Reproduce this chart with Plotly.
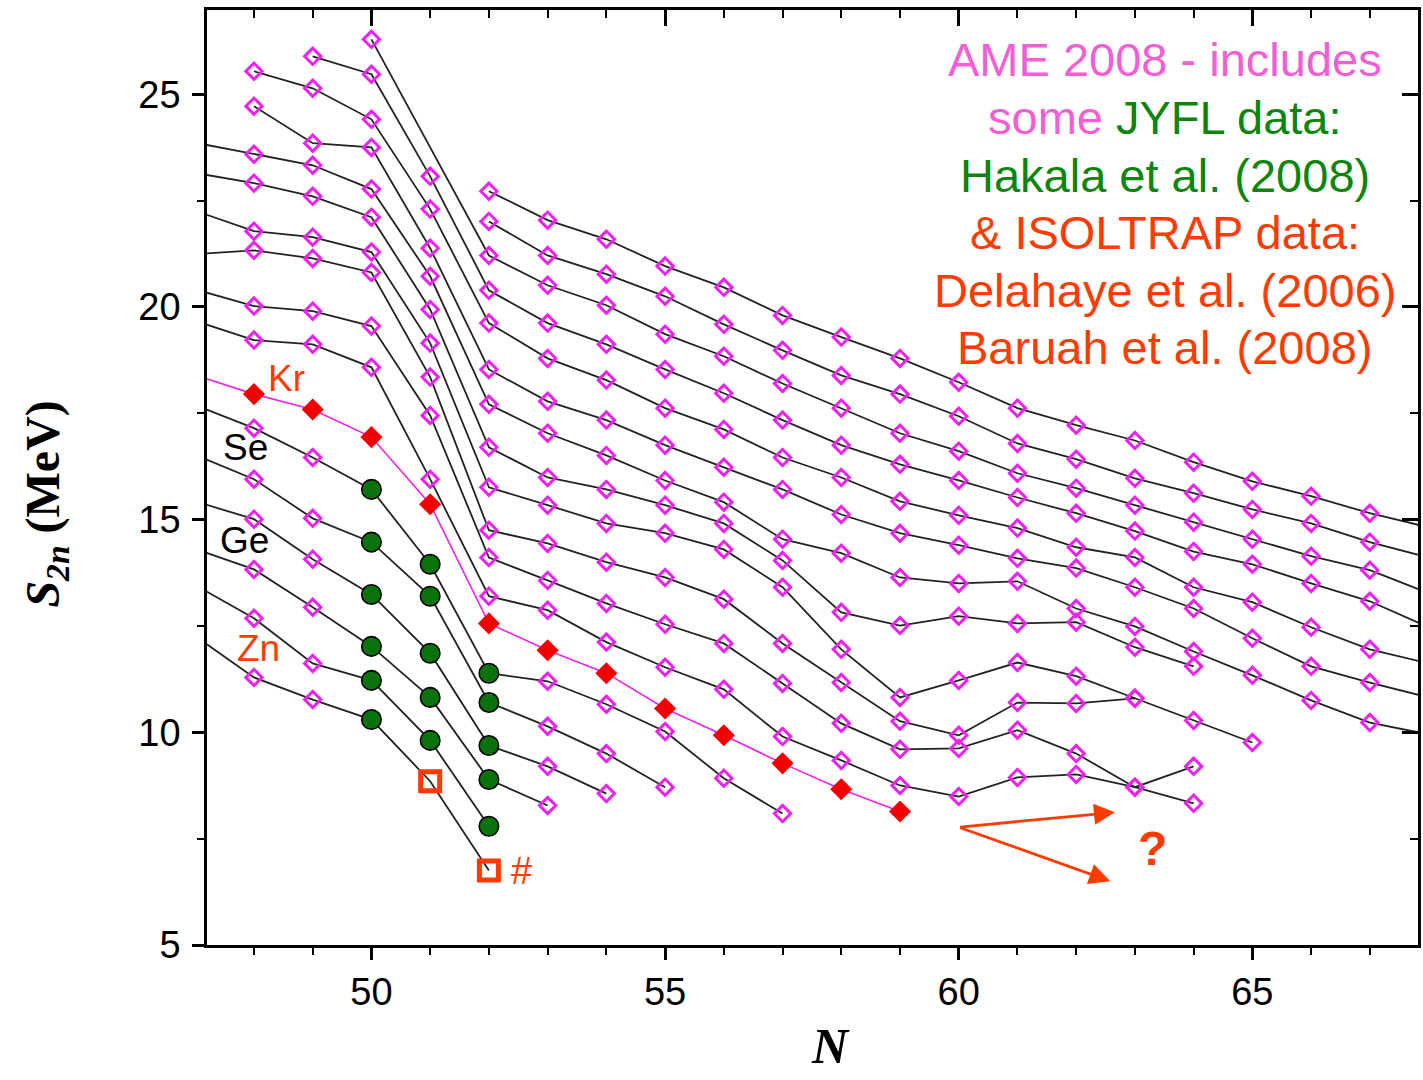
import plotly.graph_objects as go

# ---------------- data: two-neutron separation energies S2n (MeV) ----------------
# each chain starts at neutron number given by its *_N0 value; None = no value
ZN_N0, ZN = 47, [12.26, 11.29, 10.77, 10.30, 8.85, 6.75]
GA_N0, GA = 47, [13.46, 12.68, 11.62, 11.22, 9.81, 7.79]
GE_N0, GE = 47, [14.31, 13.83, 12.94, 12.02, 10.82, 8.89, 8.28]
AS_N0, AS = 47, [15.43, 15.01, 14.07, 13.24, 11.86, 9.69, 9.20, 8.56]
SE_N0, SE = 47, [16.52, 15.95, 15.03, 14.47, 13.20, 10.70, 10.14, 9.50, 8.71]
BR_N0, BR = 47, [17.69, 17.15, 16.46, 15.71, 13.95, 11.39, 11.20, 10.66, 10.02, 8.92, 8.09]
KR_N0, KR = 47, [18.40, 17.95, 17.59, 16.94, 15.36, 12.56, 11.93, 11.39, 10.56, 9.93, 9.27, 8.66, 8.14]
RB_N0, RB = 47, [19.67, 19.22, 19.12, 18.58, 15.95, 13.20, 12.87, 12.12, 11.53, 11.01, 9.90, 9.34,
                 8.75, 8.49, 8.94, 9.01, 8.71, 8.33]
SR_N0, SR = 47, [20.41, 20.02, 19.90, 19.55, 17.45, 14.11, 13.57, 13.03, 12.54, 12.09, 11.15, 10.21,
                 9.60, 9.62, 10.05, 9.50, 8.71, 9.20]
Y_N0, Y = 47, [21.24, 21.33, 21.14, 20.81, 18.35, 14.75, 14.44, 14.00, 13.64, 13.13, 12.09, 11.17,
               10.26, 9.93, 10.70, 10.68, 10.80]
ZR_N0, ZR = 47, [22.26, 21.78, 21.64, 21.29, 19.15, 15.76, 15.34, 14.91, 14.68, 14.30, 13.41, 11.95,
                 10.82, 11.22, 11.64, 11.32, 10.80, 10.28, 9.76]
NB_N0, NB = 47, [23.15, 22.91, 22.60, 22.11, 19.94, 16.70, 15.99, 15.71, 15.34, 14.91, 14.04, 12.82,
                 12.51, 12.73, 12.56, 12.59, 12.00, 11.55]
MO_N0, MO = 47, [23.86, 23.59, 23.33, 22.77, 20.72, 17.71, 17.03, 16.51, 15.92, 15.41, 14.54, 14.21,
                 13.64, 13.50, 13.55, 12.91, 12.49, 11.90, 11.34, 10.75, 10.23, 9.95]
TC_N0, TC = 48, [24.72, 23.85, 23.75, 21.38, 18.53, 17.78, 17.34, 16.75, 16.23, 15.71, 15.12, 14.68,
                 14.40, 14.09, 13.86, 13.41, 12.91, 12.21, 11.55, 11.17, 10.82]
RU_N0, RU = 48, [25.54, 25.14, 24.41, 22.30, 19.62, 18.79, 18.28, 17.62, 17.12, 16.46, 15.99, 15.43,
                 15.10, 14.80, 14.35, 14.11, 13.41, 13.06, 12.47, 11.95, 11.62]
RH_N0, RH = 49, [25.89, 25.47, 23.07, 20.39, 19.62, 19.12, 18.53, 17.97, 17.34, 16.75, 16.30, 15.92,
                 15.52, 15.15, 14.73, 14.25, 13.95, 13.50, 13.08, 12.47]
PD_N0, PD = 50, [26.29, None, 21.21, 20.51, 20.04, 19.36, 18.84, 18.20, 17.62, 17.03, 16.61, 16.09,
                 15.74, 15.34, 14.94, 14.54, 14.14, 13.81, 13.27]
AG_N0, AG = 52, [22.01, 21.21, 20.77, 20.25, 19.59, 18.98, 18.39, 17.95, 17.43, 16.79, 16.42, 15.97,
                 15.62, 15.24, 14.91, 14.47, 14.11]
CD_N0, CD = 52, [22.72, 22.04, 21.59, 20.96, 20.46, 19.80, 19.29, 18.79, 18.23, 17.62, 17.22, 16.86,
                 16.35, 15.90, 15.55, 15.15, 14.82]

ELEMENTS = ["Zn", "Ga", "Ge", "As", "Se", "Br", "Kr", "Rb", "Sr", "Y", "Zr", "Nb", "Mo", "Tc",
            "Ru", "Rh", "Pd", "Ag", "Cd"]
CHAINS = [(ZN_N0, ZN), (GA_N0, GA), (GE_N0, GE), (AS_N0, AS), (SE_N0, SE), (BR_N0, BR),
          (KR_N0, KR), (RB_N0, RB), (SR_N0, SR), (Y_N0, Y), (ZR_N0, ZR), (NB_N0, NB),
          (MO_N0, MO), (TC_N0, TC), (RU_N0, RU), (RH_N0, RH), (PD_N0, PD), (AG_N0, AG),
          (CD_N0, CD)]

# measurement sources
JYFL_N = {"Br": [50, 51, 52], "Se": [50, 51, 52], "As": [50, 51, 52],
          "Ge": [50, 51, 52], "Ga": [50, 51, 52], "Zn": [50]}   # Hakala et al. (2008)
ISOLTRAP_ELEMENT = "Kr"                                          # Delahaye / Baruah
EXTRAP_N = {"Zn": [51, 52]}                                      # extrapolated (#)

# ---------------- colours ----------------
MAG = "#ee22ee"
RED = "#f20000"
GREEN = "#0a720a"
ORANGE = "#ff3b00"
PINKTXT = "#f25fd5"
TXTGREEN = "#0b850b"

fig = go.Figure()

ame_x, ame_y = [], []
iso_x, iso_y = [], []
jy_x, jy_y = [], []
ex_x, ex_y = [], []

for el, (n0, vals) in zip(ELEMENTS, CHAINS):
    ns = list(range(n0, n0 + len(vals)))
    is_kr = el == ISOLTRAP_ELEMENT
    fig.add_trace(go.Scatter(x=ns, y=vals, mode="lines", connectgaps=True,
                             line=dict(color=MAG if is_kr else "#222222",
                                       width=1.6 if is_kr else 1.8),
                             hoverinfo="skip", showlegend=False))
    for n, v in zip(ns, vals):
        if v is None:
            continue
        if is_kr:
            iso_x.append(n); iso_y.append(v)
        elif n in JYFL_N.get(el, []):
            jy_x.append(n); jy_y.append(v)
        elif n in EXTRAP_N.get(el, []):
            ex_x.append(n); ex_y.append(v)
        else:
            ame_x.append(n); ame_y.append(v)

fig.add_trace(go.Scatter(x=ame_x, y=ame_y, mode="markers", showlegend=False,
                         marker=dict(symbol="diamond-open", size=12.5, color=MAG,
                                     line=dict(width=3, color=MAG))))
fig.add_trace(go.Scatter(x=iso_x, y=iso_y, mode="markers", showlegend=False,
                         marker=dict(symbol="diamond", size=17, color=RED,
                                     line=dict(width=0))))
fig.add_trace(go.Scatter(x=jy_x, y=jy_y, mode="markers", showlegend=False,
                         marker=dict(symbol="circle", size=19.5, color=GREEN,
                                     line=dict(width=1.6, color="black"))))
fig.add_trace(go.Scatter(x=ex_x, y=ex_y, mode="markers", showlegend=False,
                         marker=dict(symbol="square-open", size=19, color=ORANGE,
                                     line=dict(width=5, color=ORANGE))))
# dummy trace for mirrored (inside) ticks on top / right
fig.add_trace(go.Scatter(x=[], y=[], xaxis="x2", yaxis="y2", showlegend=False))

XR = [47.2, 67.82]
YR = [5.0, 26.98]
SANS = "Liberation Sans"
SERIF = "Liberation Serif"

fig.update_layout(
    width=1423, height=1080,
    margin=dict(l=207, r=2, t=10, b=135),
    paper_bgcolor="white", plot_bgcolor="white",
    xaxis=dict(range=XR, tickvals=[50, 55, 60, 65], ticks="outside", ticklen=12, tickwidth=2.5,
               tickcolor="black", minor=dict(dtick=1, tick0=0, ticks="outside", ticklen=7,
                                             tickwidth=2, tickcolor="black"),
               showline=True, linewidth=2.5, linecolor="black", mirror=True,
               showgrid=False, zeroline=False,
               tickfont=dict(family=SANS, size=38, color="black"), ticklabelstandoff=0),
    yaxis=dict(range=YR, tickvals=[5, 10, 15, 20, 25], ticks="outside", ticklen=12, tickwidth=2.5,
               tickcolor="black", minor=dict(dtick=2.5, tick0=0, ticks="outside", ticklen=7,
                                             tickwidth=2, tickcolor="black"),
               showline=True, linewidth=2.5, linecolor="black", mirror=True,
               showgrid=False, zeroline=False,
               tickfont=dict(family=SANS, size=38, color="black"), ticklabelstandoff=4),
    xaxis2=dict(range=XR, overlaying="x", side="top", tickvals=[50, 55, 60, 65], ticks="inside",
                ticklen=16, tickwidth=2.5, tickcolor="black",
                minor=dict(dtick=1, tick0=0, ticks="inside", ticklen=8, tickwidth=2,
                           tickcolor="black"),
                showticklabels=False, showgrid=False, zeroline=False, showline=False),
    yaxis2=dict(range=YR, overlaying="y", side="right", tickvals=[5, 10, 15, 20, 25],
                ticks="inside", ticklen=16, tickwidth=2.5, tickcolor="black",
                minor=dict(dtick=2.5, tick0=0, ticks="inside", ticklen=8, tickwidth=2,
                           tickcolor="black"),
                showticklabels=False, showgrid=False, zeroline=False, showline=False),
)

ann = []
# axis titles
ann.append(dict(xref="paper", yref="paper", x=-0.133, y=0.472, xanchor="center", yanchor="middle",
                textangle=-90, showarrow=False,
                text="<b><i>S</i><sub><i>2n</i></sub> (MeV)</b>",
                font=dict(family=SERIF, size=48, color="black")))
ann.append(dict(xref="paper", yref="paper", x=0.515, y=-0.108, xanchor="center", yanchor="middle",
                showarrow=False, text="<b><i>N</i></b>",
                font=dict(family=SERIF, size=50, color="black")))

# element labels
for txt, xx, yy, col in [("Kr", 48.56, 18.32, ORANGE), ("Se", 47.85, 16.70, "black"),
                         ("Ge", 47.83, 14.51, "black"), ("Zn", 48.07, 11.97, ORANGE),
                         ("#", 52.55, 6.75, ORANGE)]:
    ann.append(dict(x=xx, y=yy, text=txt, showarrow=False, xanchor="center", yanchor="middle",
                    font=dict(family=SANS, size=38 if txt == "#" else 37, color=col)))
ann.append(dict(x=63.3, y=7.27, text="<b>?</b>", showarrow=False, xanchor="center",
                yanchor="middle", font=dict(family=SANS, size=48, color=ORANGE)))

# arrows
for tipx, tipy in [(62.66, 8.12), (62.58, 6.50)]:
    ann.append(dict(x=tipx, y=tipy, ax=60.0, ay=7.77, axref="x", ayref="y", text="",
                    showarrow=True, arrowhead=2, arrowsize=1.5, arrowwidth=2.8,
                    arrowcolor=ORANGE, standoff=0, startstandoff=0))

# source notes
lines = [
    (f'<span style="color:{PINKTXT}">AME 2008 - includes</span>', 60),
    (f'<span style="color:{PINKTXT}">some </span><span style="color:{TXTGREEN}">JYFL data:</span>', 118),
    (f'<span style="color:{TXTGREEN}">Hakala et al. (2008)</span>', 175),
    (f'<span style="color:{ORANGE}">&amp; ISOLTRAP data:</span>', 232),
    (f'<span style="color:{ORANGE}">Delahaye et al. (2006)</span>', 290),
    (f'<span style="color:{ORANGE}">Baruah et al. (2008)</span>', 347),
]
for txt, py in lines:
    ann.append(dict(xref="paper", yref="paper", x=(1167 - 207) / 1214, y=(945 - py) / 935,
                    xanchor="center", yanchor="middle", showarrow=False, text=txt,
                    font=dict(family=SANS, size=47)))

fig.update_layout(annotations=ann)
fig.write_html("out.html")
